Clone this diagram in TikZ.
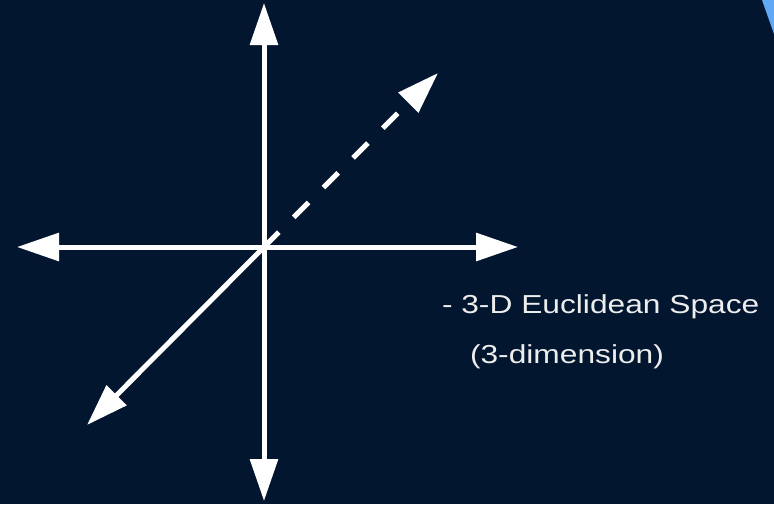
\documentclass[tikz,border=0pt]{standalone}
\usepackage{fontspec}
\setmainfont{Liberation Sans}
\newfontfamily\widesans{Liberation Sans}[FakeStretch=1.22]
\usetikzlibrary{arrows.meta, positioning}

\definecolor{navybg}{RGB}{2,22,48}
\definecolor{cornerblue}{RGB}{97,168,247}

\begin{document}
\begin{tikzpicture}[
  x=0.75pt, y=-0.75pt,
  % ---- styles ----
  axis/.style={%
    draw=white, line width=3.75pt,
    {Triangle[width=20.5pt, length=31.5pt]}-{Triangle[width=20.5pt, length=31.5pt]},
  },
  halfaxis/.style={%
    draw=white, line width=3.75pt,
    -{Triangle[width=20.5pt, length=31.5pt]},
  },
  dimlabel/.style={%
    text=white!93!black, inner sep=0pt, outer sep=0pt,
    font=\widesans\fontsize{19.5}{24}\selectfont,
  },
]

% ---- background + corner shape ----
\fill[navybg] (0,0) rectangle (774,504);
\fill[cornerblue] (762,0) -- (774,0) -- (774,34) -- cycle;

\def\dashlen{15.75pt}   % dash / gap of the depth axis

% =========================================================
% axis end points
% =========================================================
\coordinate (O)      at (264,247);
\coordinate (top)    at (264,3);
\coordinate (bottom) at (264,501);
\coordinate (left)   at (17,247);
\coordinate (right)  at (518,247);
\coordinate (ne)     at (438,73);
\coordinate (sw)     at (87,425);

% =========================================================
% axes
% =========================================================
\draw[axis] (bottom) -- (top);
\draw[axis] (left) -- (right);
\draw[halfaxis] (O) -- (sw);
\draw[halfaxis, dash pattern=on \dashlen off \dashlen] (O) -- (ne);

% =========================================================
% label
% =========================================================
\node[dimlabel, anchor=base west] (Lspace) at (442,313)
    {- 3-D Euclidean Space};
\node[dimlabel, anchor=base west] (Ldim) at (470,363)
    {(3-dimension)};

\end{tikzpicture}
\end{document}
